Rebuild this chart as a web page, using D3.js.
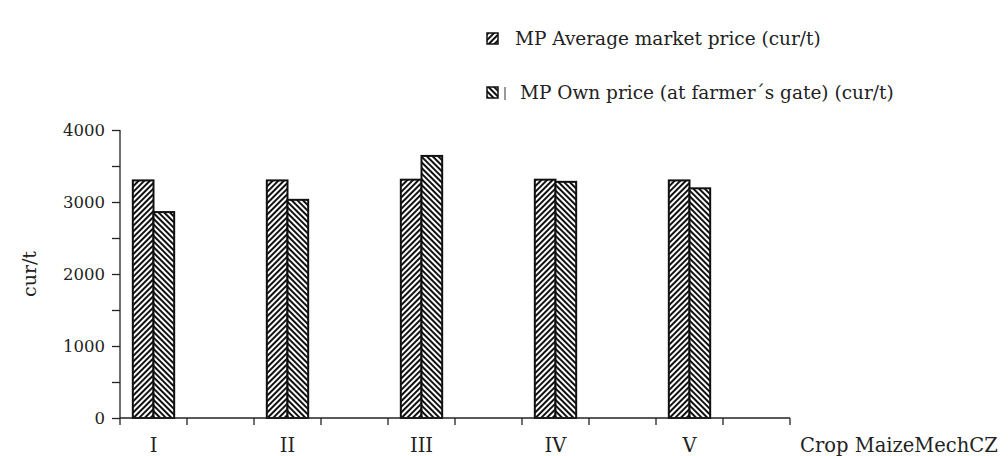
<!DOCTYPE html>
<html>
<head>
<meta charset="utf-8">
<script src="https://d3js.org/d3.v7.min.js"></script>
<style>
  body { margin: 0; background: #fff; }
  text { font-family: "DejaVu Serif", serif; fill: #222; }
</style>
</head>
<body>
<script>
// slots along the x axis, every other one is left empty
var slots = ['I', 's1', 'II', 's2', 'III', 's3', 'IV', 's4', 'V', 's5'];
var crops = ['I', 'II', 'III', 'IV', 'V'];
var series = ['MP Average market price (cur/t)', 'MP Own price (at farmer\u00b4s gate) (cur/t)'];
var avgPrice = [3300, 3300, 3310, 3310, 3300];
var ownPrice = [2860, 3030, 3640, 3280, 3190];
var yTicks = [0, 1000, 2000, 3000, 4000];

var width = 1008, height = 456;
var margin = {top: 130, left: 120, right: 218, bottom: 38};

var svg = d3.select('body').append('svg')
  .attr('width', width).attr('height', height);

var defs = svg.append('defs');
function stripes(id, angle) {
  var p = defs.append('pattern')
    .attr('id', id).attr('patternUnits', 'userSpaceOnUse')
    .attr('width', 4).attr('height', 4)
    .attr('patternTransform', 'rotate(' + angle + ')');
  p.append('rect').attr('width', 4).attr('height', 4).attr('fill', '#fff');
  p.append('rect').attr('width', 2).attr('height', 4).attr('fill', '#111');
}
stripes('hatchA', 45);
stripes('hatchB', -45);
var fills = ['url(#hatchA)', 'url(#hatchB)'];

var x = d3.scaleBand().domain(slots).range([margin.left, width - margin.right]);
var xi = d3.scaleBand().domain([0, 1]).range([0, x.bandwidth()])
  .paddingInner(0).paddingOuter(0.62);
var y = d3.scaleLinear().domain([0, 4000]).range([height - margin.bottom, margin.top]);

var rows = crops.map(function(c, i) { return {crop: c, values: [avgPrice[i], ownPrice[i]]}; });

var g = svg.selectAll('.grp').data(rows).enter().append('g')
  .attr('class', 'grp')
  .attr('transform', function(d) { return 'translate(' + x(d.crop) + ',0)'; });

g.selectAll('rect').data(function(d) { return d.values; }).enter().append('rect')
  .attr('x', function(d, i) { return xi(i); })
  .attr('y', function(d) { return y(d); })
  .attr('width', xi.bandwidth())
  .attr('height', function(d) { return y(0) - y(d); })
  .attr('fill', function(d, i) { return fills[i]; })
  .attr('stroke', '#111').attr('stroke-width', 2);

// y axis
var yAxis = d3.axisLeft(y).tickValues(d3.range(0, 4001, 500)).tickSize(8)
  .tickFormat(function(d) { return yTicks.indexOf(d) >= 0 ? d : ''; });
var ya = svg.append('g').attr('transform', 'translate(' + margin.left + ',0)').call(yAxis);
ya.select('.domain').attr('d', 'M0,' + y(4000) + 'V' + y(0)).attr('stroke', '#222').attr('stroke-width', 1.3);
ya.selectAll('.tick line').attr('stroke', '#222').attr('stroke-width', 1.3);
ya.selectAll('.tick text').attr('font-family', 'DejaVu Serif').attr('font-size', 16.5)
  .attr('fill', '#222').attr('x', -15);

// x axis: ticks on slot boundaries
var bounds = slots.map(function(s) { return x(s); }).concat([x.range()[1]]);
var xa = svg.append('g').attr('transform', 'translate(0,' + y(0) + ')');
xa.append('line').attr('x1', x.range()[0]).attr('x2', x.range()[1])
  .attr('stroke', '#222').attr('stroke-width', 1.5);
xa.selectAll('.xt').data(bounds).enter().append('line')
  .attr('x1', function(d) { return d; }).attr('x2', function(d) { return d; })
  .attr('y1', 0).attr('y2', 7).attr('stroke', '#222').attr('stroke-width', 1.3);
xa.selectAll('.xl').data(crops).enter().append('text')
  .attr('x', function(d) { return x(d) + x.bandwidth() / 2; })
  .attr('y', 34).attr('text-anchor', 'middle').attr('font-size', 19.5)
  .text(function(d) { return d; });

svg.append('text').attr('x', 800).attr('y', 452).attr('font-size', 19.5).text('Crop MaizeMechCZ');

svg.append('text').attr('transform', 'translate(36,' + y(2000) + ') rotate(-90)')
  .attr('text-anchor', 'middle').attr('font-size', 19).text('cur/t');

// legend
var lg = svg.selectAll('.leg').data(series).enter().append('g')
  .attr('class', 'leg')
  .attr('transform', function(d, i) { return 'translate(487,' + (33 + i * 54) + ')'; });
lg.append('rect').attr('width', 11).attr('height', 11)
  .attr('fill', function(d, i) { return fills[i]; })
  .attr('stroke', '#111').attr('stroke-width', 1.5);
lg.filter(function(d, i) { return i === 1; }).append('line')
  .attr('x1', 18).attr('x2', 18).attr('y1', 0).attr('y2', 13)
  .attr('stroke', '#333').attr('stroke-width', 1);
lg.append('text').attr('x', function(d, i) { return i === 0 ? 28 : 33; }).attr('y', 12)
  .attr('font-size', 18.5).text(function(d) { return d; });
</script>
</body>
</html>
